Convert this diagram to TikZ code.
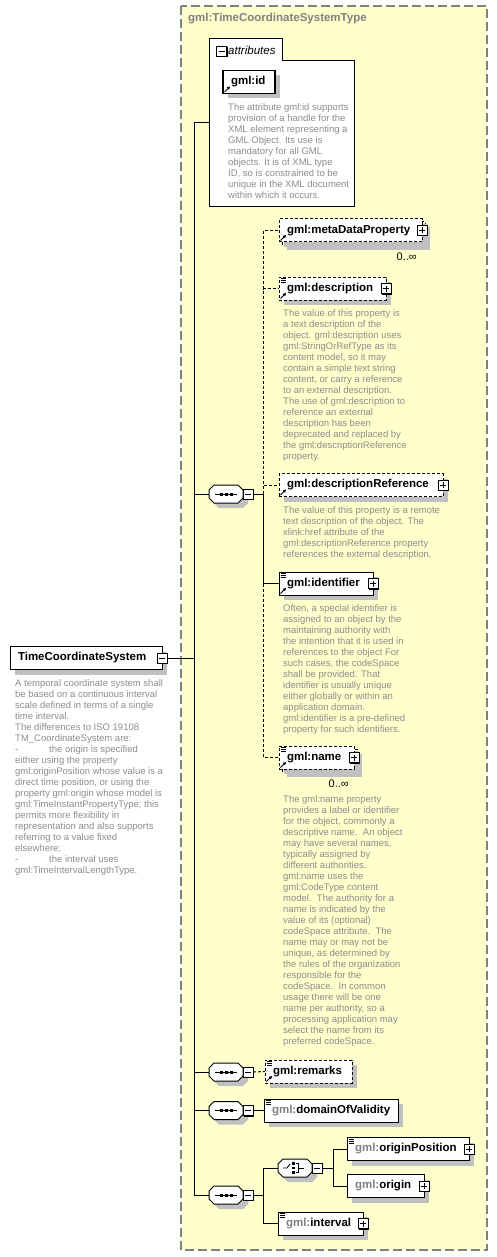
\documentclass[tikz,border=0pt]{standalone}
\usepackage{fontspec}
\setmainfont{Liberation Sans}
\usepackage{tikz}
\usetikzlibrary{
  shapes.misc,
  arrows.meta,
  positioning, calc,
  shadows
}
\usepackage{xcolor}

\definecolor{typefill}{RGB}{255,255,204}
\definecolor{typeline}{RGB}{128,128,128}
\definecolor{docgray}{RGB}{140,140,140}
\definecolor{shadegray}{RGB}{192,192,192}
\definecolor{gmlgray}{RGB}{128,128,128}

\newcommand\elfont{\fontsize{11.5}{13}\selectfont\bfseries}
\newcommand\docfont{\fontsize{9.5}{11}\selectfont}
\newcommand\gmlpre{{\color{gmlgray}gml:}}

% small icons drawn inside the boxes
\newcommand\docicon{%
  \draw[solid, line width=0.9pt]
    ([shift={(1.5pt,-1.8pt)}]path picture bounding box.north west) -- ++(5pt,0pt)
    ([shift={(1.5pt,-3.8pt)}]path picture bounding box.north west) -- ++(5pt,0pt)
    ([shift={(1.5pt,-5.8pt)}]path picture bounding box.north west) -- ++(5pt,0pt);}
\newcommand\reficon{%
  \draw[solid, line width=0.9pt, -{Triangle[length=3pt,width=3.2pt]}]
    ([shift={(1.5pt,1.5pt)}]path picture bounding box.south west) -- ++(5.5pt,5.5pt);}
\newcommand\seqicon{%
  \draw[solid, line width=0.9pt]
    ([xshift=-11pt]path picture bounding box.center) -- ([xshift=11pt]path picture bounding box.center);
  \foreach \dx in {-5,0,5}
    \fill ([shift={(\dx pt-1.5pt,-1.5pt)}]path picture bounding box.center) rectangle ++(3pt,3pt);}
\newcommand\choiceicon{%
  \draw[solid, line width=0.9pt]
    ([xshift=-12pt]path picture bounding box.center) -- ([xshift=-8pt]path picture bounding box.center)
    -- ([shift={(-5pt,4pt)}]path picture bounding box.center);
  \foreach \dy in {-4.5,0,4.5}
    \fill ([shift={(-3pt,\dy pt-1.25pt)}]path picture bounding box.center) rectangle ++(2.5pt,2.5pt);
  \draw[solid, line width=0.9pt]
    ([shift={(0.5pt,4.5pt)}]path picture bounding box.center) -- ([shift={(3pt,4.5pt)}]path picture bounding box.center)
    -- ([shift={(3pt,-4.5pt)}]path picture bounding box.center) -- ([shift={(0.5pt,-4.5pt)}]path picture bounding box.center)
    ([shift={(3pt,0pt)}]path picture bounding box.center) -- ([shift={(9pt,0pt)}]path picture bounding box.center);}
% outline of a compositor symbol round a centre (x,y)
\newcommand\octpath[2]{({#1-17},{#2-4}) -- ({#1-12},{#2-9}) -- ({#1+12},{#2-9}) -- ({#1+17},{#2-4})
  -- ({#1+17},{#2+4}) -- ({#1+12},{#2+9}) -- ({#1-12},{#2+9}) -- ({#1-17},{#2+4}) -- cycle}
\newcommand\octframe[2]{%
  \fill[shadegray, shift={(5,5)}] \octpath{#1}{#2};
  \draw[line width=1pt, fill=white] \octpath{#1}{#2};}

\tikzset{
  boxshadow/.style={drop shadow={shadow xshift=5pt, shadow yshift=-5pt, fill=shadegray, opacity=1}},
  elbox/.style={draw, fill=white, line width=1pt, anchor=west, minimum height=23pt,
    inner xsep=8pt, inner ysep=0pt, outer sep=0pt, align=left, font=\elfont, boxshadow},
  optbox/.style={elbox, dash pattern=on 3pt off 2pt},
  backframe/.style={draw, fill=white, line width=1pt, dash pattern=on 3pt off 2pt, boxshadow},
  refmark/.style={path picture={\reficon}},
  docmark/.style={path picture={\docicon}},
  refdocmark/.style={path picture={\reficon\docicon}},
  pmbox/.style={draw, fill=white, line width=0.8pt, minimum size=10pt, inner sep=0pt, outer sep=0pt,
    drop shadow={shadow xshift=1pt, shadow yshift=-1pt, fill=black, opacity=1}},
  plusbox/.style={pmbox, path picture={\draw[line width=0.9pt]
    ([xshift=-3pt]path picture bounding box.center) -- ([xshift=3pt]path picture bounding box.center)
    ([yshift=-3pt]path picture bounding box.center) -- ([yshift=3pt]path picture bounding box.center);}},
  minusbox/.style={pmbox, path picture={\draw[line width=0.9pt]
    ([xshift=-3pt]path picture bounding box.center) -- ([xshift=3pt]path picture bounding box.center);}},
  seqnode/.style={rectangle, minimum width=34pt, minimum height=18pt, inner sep=0pt, outer sep=0pt},
  seqsym/.style={seqnode, path picture={\seqicon}},
  choicesym/.style={seqnode, path picture={\choiceicon}},
  doctext/.style={anchor=north west, align=left, font=\docfont, text=docgray, inner sep=0pt},
  multlabel/.style={anchor=east, font=\fontsize{11}{12}\selectfont, inner sep=0pt},
  conn/.style={line width=1pt},
  optconn/.style={conn, dash pattern=on 3pt off 2pt}
}

\begin{document}
\begin{tikzpicture}[x=1pt, y=-1pt]
  \useasboundingbox (0,0) rectangle (497,1257);

  % complex type frame
  \draw[typeline, fill=typefill, line width=1.4pt, dash pattern=on 9pt off 4pt]
    (181,6) rectangle (487,1250);
  \node[anchor=west, font=\elfont, text=typeline, inner sep=0pt] (typetitle) at (188,19)
    {gml:TimeCoordinateSystemType};

  % attributes group
  \draw[line width=1pt, fill=white] (209,39) -- (282,39) -- (282,61) -- (354,61)
    -- (354,207) -- (209,207) -- cycle;
  \node[minusbox] (attrminus) at (221.5,51.5) {};
  \node[anchor=west, font=\fontsize{11.5}{13}\selectfont\itshape, inner sep=0pt] (attrlabel)
    at (228,50.5) {attributes};
  \node[elbox, refmark, line width=1.5pt, text width=36pt] (gmlid) at (223,82) {gml:id};
  \node[doctext] (gmlid-doc) at (228,103.5) {The attribute gml:id supports\\
    provision of a handle for the\\XML element representing a\\GML Object. Its use is\\
    mandatory for all GML\\objects. It is of XML type\\ID, so is constrained to be\\
    unique in the XML document\\within which it occurs.};
  \coordinate (attr) at (209,123);

  % the element itself
  \node[elbox, text width=136pt] (tcs) at (10,658) {TimeCoordinateSystem};
  \node[minusbox] (tcsminus) at (tcs.east) {};
  \node[doctext] (tcs-doc) at (15,679.5) {A temporal coordinate system shall\\
    be based on a continuous interval\\scale defined in terms of a single\\time interval.\\
    The differences to ISO 19108\\TM\_CoordinateSystem are:\\
    \makebox[34pt][l]{-}the origin is specified\\either using the property\\
    gml:originPosition whose value is a\\direct time position, or using the\\
    property gml:origin whose model is\\gml:TimeInstantPropertyType; this\\
    permits more flexibility in\\representation and also supports\\
    referring to a value fixed\\elsewhere;\\
    \makebox[34pt][l]{-}the interval uses\\gml:TimeIntervalLengthType.};

  % trunk
  \coordinate (t-attr) at (194,123);
  \coordinate (t-end) at (194,1195);

  % sequences
  \foreach \y in {494,1072,1110.5,1195}
    \octframe{226}{\y}
  \node[seqsym] (seq1) at (226,494) {};
  \node[minusbox, right=0pt of seq1] (seq1minus) {};
  \node[seqsym] (seq2) at (226,1072) {};
  \node[minusbox, right=0pt of seq2] (seq2minus) {};
  \node[seqsym] (seq3) at (226,1110.5) {};
  \node[minusbox, right=0pt of seq3] (seq3minus) {};
  \node[seqsym] (seq4) at (226,1195) {};
  \node[minusbox, right=0pt of seq4] (seq4minus) {};
  \coordinate (j1) at (263,494);
  \coordinate (j4) at (263,1195);

  % first sequence
  \draw[backframe] (282,222) rectangle (425,245);
  \node[optbox, refmark, text width=127pt] (meta) at (279,230.5) {gml:metaDataProperty};
  \node[plusbox] (metaplus) at (meta.east) {};
  \node[multlabel] (metamult) at ($(meta.south east)+(-5,15)$) {0..∞};

  \node[optbox, refdocmark, text width=91pt] (desc) at (279,288.5) {gml:description};
  \node[plusbox] (descplus) at (desc.east) {};
  \node[doctext] (desc-doc) at (283,309.5) {The value of this property is\\
    a text description of the\\object. gml:description uses\\gml:StringOrRefType as its\\
    content model, so it may\\contain a simple text string\\content, or carry a reference\\
    to an external description.\\The use of gml:description to\\reference an external\\
    description has been\\deprecated and replaced by\\the gml:descriptionReference\\property.};

  \node[optbox, refmark, text width=148pt] (descref) at (279,485) {gml:descriptionReference};
  \node[plusbox] (descrefplus) at (descref.east) {};
  \node[doctext] (descref-doc) at (283,506.5) {The value of this property is a remote\\
    text description of the object. The\\xlink:href attribute of the\\
    gml:descriptionReference property\\references the external description.};

  \node[elbox, refdocmark, text width=78pt] (ident) at (279,583.5) {gml:identifier};
  \node[plusbox] (identplus) at (ident.east) {};
  \node[doctext] (ident-doc) at (283,604.5) {Often, a special identifier is\\
    assigned to an object by the\\maintaining authority with\\the intention that it is used in\\
    references to the object For\\such cases, the codeSpace\\shall be provided. That\\
    identifier is usually unique\\either globally or within an\\application domain.\\
    gml:identifier is a pre-defined\\property for such identifiers.};

  \draw[backframe] (282,749) rectangle (357,772);
  \node[optbox, refdocmark, text width=59pt] (name) at (279,757.5) {gml:name};
  \node[plusbox] (nameplus) at (name.east) {};
  \node[multlabel] (namemult) at ($(name.south east)+(-5,15)$) {0..∞};
  \node[doctext] (name-doc) at (283,795.5) {The gml:name property\\
    provides a label or identifier\\for the object, commonly a\\descriptive name.\ \ An object\\
    may have several names,\\typically assigned by\\different authorities.\\gml:name uses the\\
    gml:CodeType content\\model.\ \ The authority for a\\name is indicated by the\\
    value of its (optional)\\codeSpace attribute.\ \ The\\name may or may not be\\
    unique, as determined by\\the rules of the organization\\responsible for the\\
    codeSpace.\ \ In common\\usage there will be one\\name per authority, so a\\
    processing application may\\select the name from its\\preferred codeSpace.};

  % remaining sequences
  \node[optbox, refdocmark, text width=71pt] (remarks) at (265,1071.5) {gml:remarks};
  \node[elbox, docmark, text width=118pt] (dov) at (264,1110.5) {\gmlpre domainOfValidity};

  \octframe{295}{1168}
  \node[choicesym] (choice) at (295,1168) {};
  \node[minusbox, right=0pt of choice] (choiceminus) {};
  \coordinate (j5) at (333,1168);
  \node[elbox, docmark, text width=106pt] (opos) at (347,1149) {\gmlpre originPosition};
  \node[plusbox] (oposplus) at (opos.east) {};
  \node[elbox, text width=61pt] (origin) at (347,1186) {\gmlpre origin};
  \node[plusbox] (originplus) at (origin.east) {};
  \node[elbox, docmark, text width=69pt] (interval) at (278,1223.5) {\gmlpre interval};
  \node[plusbox] (intervalplus) at (interval.east) {};

  % connectors
  \draw[conn] (tcsminus.east) -- (tcsminus.east -| t-attr);
  \draw[conn] (t-attr) -- (t-end);
  \draw[conn] (t-attr) -- (attr);
  \foreach \s in {seq1,seq2,seq3,seq4}
    \draw[conn] (\s.west -| t-attr) -- (\s.west);
  \draw[conn] (seq1minus.east) -- (j1);
  \foreach \e in {meta,desc,descref,name}
    \draw[optconn] (j1) |- (\e.west);
  \draw[conn] (j1) |- (ident.west);
  \draw[optconn] (seq2minus.east) -- (remarks.west);
  \draw[conn] (seq3minus.east) -- (dov.west);
  \draw[conn] (seq4minus.east) -- (j4);
  \draw[conn] (j4) |- (choice.west);
  \draw[conn] (j4) |- (interval.west);
  \draw[conn] (choiceminus.east) -- (j5);
  \draw[conn] (j5) |- (opos.west);
  \draw[conn] (j5) |- (origin.west);
\end{tikzpicture}
\end{document}
